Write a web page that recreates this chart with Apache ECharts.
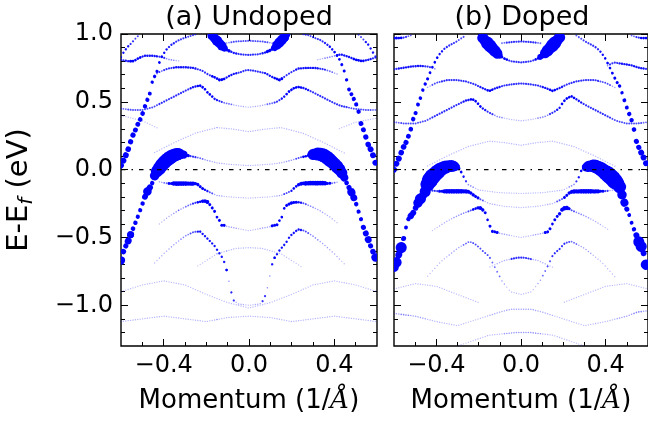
<!DOCTYPE html>
<html><head><meta charset="utf-8">
<script src="https://cdn.jsdelivr.net/npm/echarts@6/dist/echarts.min.js"></script>
<style>html,body{margin:0;padding:0;background:#fff}#c{width:648px;height:422px}</style>
</head><body><div id="c"></div>
<script>
// ---------- axis / label data ----------
const titles = ['(a) Undoped', '(b) Doped'];
const xRange = [-0.6, 0.6];
const yRange = [-1.3, 1.0];
const xMajor = [-0.4, 0, 0.4];
const xMinor = [-0.5, -0.3, -0.2, -0.1, 0.1, 0.2, 0.3, 0.5];
const yMajor = [-1.0, -0.5, 0, 0.5, 1.0];
const yMinor = [-1.2, -1.1, -0.9, -0.8, -0.7, -0.6, -0.4, -0.3, -0.2, -0.1, 0.1, 0.2, 0.3, 0.4, 0.6, 0.7, 0.8, 0.9];
const fermiLevel = [[-0.6, 0], [0.6, 0]];

// ---------- bands: [k (1/A), E-Ef (eV), spectral weight] ----------
// (a) Undoped
const undopedOuterLeft = [[-0.6,0.03,0.7],[-0.585,0.079,0.7],[-0.573,0.123,0.7],[-0.561,0.172,0.68],[-0.55,0.234,0.66],[-0.534,0.287,0.64],[-0.52,0.339,0.63],[-0.505,0.385,0.62],[-0.49,0.455,0.6],[-0.48,0.503,0.58],[-0.467,0.545,0.56],[-0.46,0.6,0.55],[-0.453,0.65,0.5],[-0.444,0.683,0.5],[-0.433,0.712,0.47],[-0.425,0.77,0.42],[-0.41,0.83,0.4],[-0.39,0.88,0.36],[-0.365,0.92,0.33],[-0.335,0.95,0.3],[-0.305,0.97,0.28],[-0.275,0.985,0.25],[-0.245,1.0,0.22]];
const undopedOuterRight = [[0.245,1.0,0.22],[0.28,0.99,0.25],[0.31,0.97,0.28],[0.335,0.955,0.3],[0.36,0.93,0.33],[0.38,0.905,0.36],[0.405,0.86,0.4],[0.425,0.81,0.42],[0.442,0.75,0.45],[0.455,0.68,0.5],[0.466,0.6,0.55],[0.481,0.553,0.56],[0.497,0.503,0.58],[0.512,0.442,0.6],[0.524,0.344,0.63],[0.536,0.295,0.64],[0.549,0.234,0.66],[0.559,0.184,0.68],[0.575,0.135,0.7],[0.583,0.098,0.7],[0.59,0.061,0.7],[0.6,0.02,0.7]];
const undopedHump = [[-0.6,-0.67,0.8],[-0.595,-0.64,0.8],[-0.588,-0.6,0.68],[-0.58,-0.57,0.65],[-0.57,-0.54,0.75],[-0.562,-0.51,0.8],[-0.555,-0.48,0.75],[-0.545,-0.44,0.62],[-0.537,-0.41,0.6],[-0.527,-0.37,0.58],[-0.517,-0.33,0.58],[-0.508,-0.29,0.58],[-0.5,-0.255,0.6],[-0.49,-0.21,0.7],[-0.48,-0.17,0.82],[-0.468,-0.14,0.72],[-0.458,-0.115,0.6],[-0.45,-0.086,0.6],[-0.444,-0.05,0.85],[-0.435,-0.02,0.93],[-0.42,0.01,0.96],[-0.405,0.04,0.97],[-0.39,0.065,0.97],[-0.37,0.09,0.97],[-0.35,0.108,0.95],[-0.33,0.115,0.92],[-0.31,0.112,0.8],[-0.29,0.105,0.5],[-0.26,0.095,0.3],[-0.23,0.085,0.2],[-0.2,0.07,0.12],[-0.15,0.05,0.08],[-0.1,0.04,0.06],[0,0.03,0.06],[0.1,0.04,0.06],[0.15,0.05,0.08],[0.2,0.07,0.12],[0.24,0.09,0.25],[0.27,0.1,0.4],[0.29,0.11,0.7],[0.31,0.115,0.9],[0.33,0.115,0.95],[0.35,0.105,0.97],[0.365,0.09,0.97],[0.38,0.07,0.97],[0.395,0.05,0.95],[0.41,0.025,0.95],[0.425,0.0,0.93],[0.437,-0.03,0.9],[0.447,-0.06,0.8],[0.455,-0.09,0.62],[0.465,-0.12,0.65],[0.478,-0.16,0.8],[0.487,-0.19,0.75],[0.497,-0.23,0.6],[0.505,-0.265,0.6],[0.512,-0.3,0.58],[0.52,-0.34,0.58],[0.528,-0.38,0.58],[0.535,-0.42,0.65],[0.545,-0.46,0.7],[0.555,-0.5,0.8],[0.562,-0.53,0.75],[0.572,-0.57,0.65],[0.58,-0.6,0.68],[0.59,-0.64,0.8],[0.6,-0.67,0.8]];
const undopedFlat = [[-0.42,-0.09,0.1],[-0.39,-0.1,0.2],[-0.37,-0.102,0.45],[-0.355,-0.102,0.6],[-0.34,-0.103,0.62],[-0.31,-0.103,0.62],[-0.28,-0.103,0.6],[-0.245,-0.103,0.5],[-0.234,-0.118,0.45],[-0.222,-0.135,0.45],[-0.205,-0.15,0.35],[-0.18,-0.17,0.25],[-0.15,-0.19,0.1],[-0.1,-0.2,0.05],[0,-0.21,0.05],[0.1,-0.2,0.05],[0.15,-0.19,0.1],[0.18,-0.17,0.25],[0.2,-0.155,0.35],[0.215,-0.13,0.4],[0.235,-0.108,0.5],[0.25,-0.102,0.55],[0.28,-0.1,0.62],[0.31,-0.1,0.62],[0.34,-0.1,0.62],[0.355,-0.1,0.6],[0.37,-0.102,0.45],[0.39,-0.1,0.2],[0.42,-0.09,0.1]];
const undopedDome1 = [[-0.42,-0.4,0.05],[-0.38,-0.35,0.08],[-0.33,-0.3,0.12],[-0.28,-0.26,0.2],[-0.253,-0.245,0.3],[-0.23,-0.237,0.4],[-0.215,-0.232,0.5],[-0.2,-0.232,0.55],[-0.19,-0.245,0.5],[-0.178,-0.27,0.45],[-0.16,-0.31,0.45],[-0.15,-0.35,0.4],[-0.136,-0.38,0.45],[-0.128,-0.41,0.45],[-0.117,-0.41,0.45],[-0.1,-0.42,0.1],[0,-0.45,0.05],[0.1,-0.42,0.1],[0.114,-0.41,0.45],[0.13,-0.41,0.45],[0.14,-0.38,0.4],[0.153,-0.356,0.4],[0.16,-0.3,0.4],[0.17,-0.27,0.4],[0.18,-0.26,0.45],[0.2,-0.245,0.5],[0.215,-0.24,0.45],[0.235,-0.24,0.35],[0.26,-0.25,0.25],[0.29,-0.27,0.15],[0.33,-0.3,0.1],[0.38,-0.35,0.08],[0.42,-0.4,0.05]];
const undopedDome2 = [[-0.45,-0.7,0.05],[-0.4,-0.62,0.08],[-0.35,-0.55,0.1],[-0.3,-0.49,0.15],[-0.26,-0.46,0.25],[-0.23,-0.455,0.35],[-0.2,-0.5,0.35],[-0.175,-0.54,0.35],[-0.16,-0.565,0.35],[-0.15,-0.59,0.35],[-0.12,-0.66,0.35],[-0.105,-0.74,0.35],[-0.09,-0.85,0.12],[-0.075,-0.96,0.3],[-0.05,-0.99,0.08],[0,-1.0,0.05],[0.05,-0.99,0.08],[0.07,-0.96,0.3],[0.09,-0.85,0.12],[0.106,-0.71,0.35],[0.12,-0.65,0.35],[0.145,-0.59,0.35],[0.16,-0.565,0.35],[0.177,-0.53,0.35],[0.192,-0.49,0.35],[0.23,-0.44,0.35],[0.26,-0.45,0.25],[0.3,-0.49,0.15],[0.35,-0.55,0.1],[0.4,-0.62,0.08],[0.45,-0.7,0.05]];
const undopedV = [[-0.18,1.0,0.75],[-0.165,0.975,0.85],[-0.15,0.95,0.87],[-0.135,0.925,0.85],[-0.12,0.9,0.75],[-0.1,0.88,0.5],[-0.07,0.86,0.35],[-0.04,0.85,0.3],[0,0.845,0.3],[0.04,0.85,0.3],[0.07,0.86,0.35],[0.1,0.88,0.5],[0.12,0.9,0.75],[0.135,0.925,0.85],[0.15,0.95,0.87],[0.165,0.975,0.85],[0.18,1.0,0.75]];
const undopedTopCenter = [[-0.12,0.93,0.15],[-0.06,0.945,0.25],[0,0.95,0.25],[0.06,0.945,0.25],[0.12,0.93,0.15]];
const undopedEdgeLeft = [[-0.6,0.83,0.3],[-0.586,0.87,0.35],[-0.566,0.91,0.35],[-0.553,0.93,0.3],[-0.53,0.97,0.25],[-0.51,1.0,0.2]];
const undopedEdgeRight = [[0.51,1.0,0.2],[0.53,0.97,0.25],[0.56,0.92,0.35],[0.575,0.88,0.35],[0.59,0.84,0.3],[0.6,0.82,0.3]];
const undopedSideLeft = [[-0.6,0.81,0.3],[-0.57,0.8,0.35],[-0.54,0.8,0.4],[-0.52,0.82,0.4],[-0.49,0.84,0.35],[-0.45,0.84,0.35],[-0.41,0.83,0.3],[-0.37,0.81,0.15],[-0.32,0.8,0.08]];
const undopedSideRight = [[0.32,0.81,0.08],[0.38,0.83,0.15],[0.43,0.85,0.35],[0.47,0.83,0.35],[0.5,0.81,0.4],[0.53,0.8,0.4],[0.56,0.81,0.35],[0.6,0.83,0.3]];
const undopedW = [[-0.45,0.69,0.1],[-0.42,0.72,0.2],[-0.38,0.745,0.3],[-0.34,0.755,0.35],[-0.3,0.755,0.35],[-0.26,0.75,0.35],[-0.22,0.73,0.3],[-0.19,0.7,0.3],[-0.16,0.68,0.4],[-0.136,0.66,0.45],[-0.117,0.668,0.4],[-0.097,0.687,0.35],[-0.074,0.705,0.35],[-0.042,0.717,0.3],[-0.011,0.735,0.3],[0.02,0.73,0.3],[0.05,0.72,0.3],[0.08,0.71,0.35],[0.1,0.69,0.35],[0.12,0.675,0.4],[0.145,0.66,0.45],[0.17,0.69,0.3],[0.2,0.72,0.3],[0.23,0.745,0.35],[0.27,0.75,0.35],[0.31,0.75,0.35],[0.35,0.74,0.3],[0.38,0.725,0.2],[0.42,0.7,0.1]];
const undopedDome062 = [[-0.6,0.45,0.2],[-0.55,0.44,0.25],[-0.5,0.44,0.25],[-0.45,0.46,0.25],[-0.4,0.5,0.3],[-0.35,0.54,0.3],[-0.3,0.58,0.3],[-0.26,0.61,0.35],[-0.23,0.62,0.4],[-0.21,0.6,0.4],[-0.195,0.57,0.4],[-0.18,0.55,0.4],[-0.16,0.52,0.35],[-0.13,0.5,0.3],[-0.11,0.49,0.2],[-0.05,0.47,0.08],[0,0.46,0.06],[0.05,0.47,0.08],[0.11,0.49,0.2],[0.13,0.5,0.3],[0.16,0.53,0.35],[0.19,0.58,0.4],[0.21,0.6,0.4],[0.23,0.61,0.4],[0.26,0.6,0.35],[0.3,0.57,0.3],[0.35,0.53,0.3],[0.4,0.49,0.3],[0.43,0.47,0.3],[0.49,0.45,0.25],[0.55,0.44,0.25],[0.6,0.44,0.2]];
const undopedFaint1 = [[-0.45,0.12,0.06],[-0.35,0.2,0.06],[-0.25,0.27,0.06],[-0.15,0.31,0.06],[-0.08,0.3,0.06],[0,0.28,0.06],[0.08,0.3,0.06],[0.15,0.31,0.06],[0.25,0.27,0.06],[0.35,0.2,0.06],[0.45,0.12,0.06]];
const undopedFaint2 = [[-0.6,-1.12,0.06],[-0.5,-1.1,0.06],[-0.4,-1.08,0.06],[-0.3,-1.1,0.06],[-0.2,-1.12,0.06],[-0.1,-1.09,0.06],[0,-1.08,0.06],[0.1,-1.09,0.06],[0.2,-1.12,0.06],[0.3,-1.1,0.06],[0.4,-1.08,0.06],[0.5,-1.1,0.06],[0.6,-1.12,0.06]];
const undopedFaint3 = [[-0.6,-0.9,0.05],[-0.5,-0.85,0.05],[-0.4,-0.82,0.05],[-0.3,-0.85,0.05],[-0.2,-0.92,0.05],[-0.1,-0.98,0.05],[0,-1.02,0.05],[0.1,-0.98,0.05],[0.2,-0.92,0.05],[0.3,-0.85,0.05],[0.4,-0.82,0.05],[0.5,-0.85,0.05],[0.6,-0.9,0.05]];
const undopedFaint4 = [[-0.25,-0.72,0.04],[-0.15,-0.62,0.05],[-0.06,-0.58,0.06],[0,-0.575,0.06],[0.06,-0.58,0.06],[0.15,-0.62,0.05],[0.25,-0.72,0.04]];
const undopedFaint5 = [[-0.6,0.4,0.05],[-0.5,0.36,0.05],[-0.42,0.3,0.04]];
const undopedFaint6 = [[0.42,0.3,0.04],[0.5,0.35,0.05],[0.6,0.38,0.05]];

// (b) Doped
const dopedOuterLeft = [[-0.6,0.0,0.7],[-0.587,0.05,0.7],[-0.572,0.098,0.7],[-0.56,0.152,0.68],[-0.54,0.21,0.65],[-0.528,0.265,0.63],[-0.517,0.315,0.62],[-0.51,0.37,0.6],[-0.5,0.405,0.58],[-0.49,0.466,0.56],[-0.475,0.528,0.52],[-0.466,0.577,0.5],[-0.458,0.614,0.5],[-0.447,0.65,0.47],[-0.435,0.69,0.45],[-0.428,0.724,0.42],[-0.413,0.774,0.4],[-0.397,0.823,0.38],[-0.381,0.86,0.35],[-0.358,0.897,0.32],[-0.334,0.92,0.3],[-0.311,0.938,0.28],[-0.28,0.97,0.25],[-0.26,0.99,0.22]];
const dopedOuterRight = [[0.26,0.99,0.22],[0.28,0.97,0.25],[0.311,0.938,0.28],[0.334,0.92,0.3],[0.358,0.897,0.32],[0.381,0.86,0.35],[0.397,0.823,0.38],[0.413,0.774,0.4],[0.428,0.724,0.42],[0.44,0.685,0.45],[0.451,0.65,0.47],[0.467,0.614,0.5],[0.475,0.577,0.5],[0.483,0.54,0.52],[0.49,0.503,0.55],[0.498,0.466,0.56],[0.506,0.43,0.58],[0.514,0.4,0.6],[0.522,0.368,0.6],[0.53,0.32,0.62],[0.538,0.27,0.63],[0.545,0.209,0.65],[0.553,0.178,0.66],[0.561,0.147,0.68],[0.57,0.12,0.7],[0.577,0.098,0.7],[0.59,0.05,0.7],[0.6,0.0,0.7]];
const dopedHump = [[-0.6,-0.72,0.85],[-0.59,-0.69,0.88],[-0.582,-0.65,0.7],[-0.574,-0.61,0.75],[-0.566,-0.575,0.9],[-0.56,-0.545,0.88],[-0.555,-0.51,0.65],[-0.55,-0.475,0.55],[-0.545,-0.44,0.55],[-0.54,-0.4,0.55],[-0.535,-0.37,0.6],[-0.52,-0.34,0.72],[-0.505,-0.31,0.7],[-0.495,-0.27,0.68],[-0.485,-0.24,0.85],[-0.475,-0.215,0.9],[-0.462,-0.19,0.8],[-0.452,-0.16,0.9],[-0.445,-0.12,0.98],[-0.435,-0.09,1.02],[-0.423,-0.06,1.02],[-0.41,-0.04,1.0],[-0.4,-0.025,1.0],[-0.385,-0.005,0.98],[-0.369,0.012,0.96],[-0.35,0.022,0.94],[-0.335,0.027,0.92],[-0.32,0.027,0.88],[-0.305,0.02,0.75],[-0.29,0.005,0.5],[-0.28,-0.025,0.4],[-0.27,-0.055,0.35],[-0.262,-0.08,0.3],[-0.25,-0.11,0.15],[-0.2,-0.15,0.06],[-0.1,-0.17,0.05],[0,-0.175,0.05],[0.1,-0.17,0.05],[0.2,-0.15,0.06],[0.25,-0.11,0.15],[0.265,-0.08,0.3],[0.275,-0.05,0.35],[0.28,-0.02,0.4],[0.29,0.005,0.5],[0.303,0.015,0.8],[0.32,0.025,0.9],[0.342,0.028,0.94],[0.36,0.02,0.96],[0.381,0.0,0.98],[0.398,-0.02,1.0],[0.413,-0.037,1.02],[0.43,-0.06,1.02],[0.444,-0.086,1.02],[0.456,-0.105,0.98],[0.467,-0.13,0.95],[0.473,-0.16,0.85],[0.478,-0.19,0.85],[0.483,-0.22,0.9],[0.49,-0.25,0.8],[0.497,-0.28,0.65],[0.506,-0.315,0.75],[0.515,-0.35,0.55],[0.522,-0.39,0.55],[0.53,-0.42,0.6],[0.537,-0.455,0.6],[0.55,-0.5,0.7],[0.56,-0.55,0.9],[0.572,-0.575,0.9],[0.58,-0.62,0.7],[0.587,-0.69,0.88],[0.6,-0.73,0.85]];
const dopedFlat = [[-0.44,-0.15,0.1],[-0.4,-0.158,0.3],[-0.38,-0.16,0.45],[-0.365,-0.16,0.6],[-0.353,-0.16,0.62],[-0.3,-0.16,0.62],[-0.263,-0.16,0.6],[-0.25,-0.162,0.55],[-0.24,-0.168,0.5],[-0.228,-0.184,0.5],[-0.212,-0.2,0.45],[-0.19,-0.22,0.25],[-0.15,-0.25,0.08],[-0.08,-0.27,0.05],[0,-0.28,0.05],[0.08,-0.27,0.05],[0.15,-0.25,0.08],[0.19,-0.22,0.25],[0.21,-0.2,0.45],[0.225,-0.175,0.5],[0.24,-0.163,0.55],[0.255,-0.16,0.6],[0.3,-0.16,0.62],[0.36,-0.16,0.6],[0.375,-0.16,0.45],[0.4,-0.158,0.3],[0.44,-0.15,0.1]];
const dopedDome1 = [[-0.42,-0.45,0.05],[-0.35,-0.38,0.08],[-0.3,-0.34,0.12],[-0.27,-0.32,0.15],[-0.244,-0.305,0.25],[-0.22,-0.29,0.4],[-0.205,-0.282,0.5],[-0.195,-0.28,0.55],[-0.185,-0.29,0.5],[-0.175,-0.305,0.45],[-0.168,-0.32,0.45],[-0.16,-0.36,0.4],[-0.15,-0.405,0.45],[-0.135,-0.455,0.45],[-0.119,-0.46,0.45],[-0.1,-0.47,0.1],[0,-0.5,0.05],[0.1,-0.47,0.1],[0.123,-0.46,0.45],[0.131,-0.455,0.45],[0.145,-0.41,0.4],[0.163,-0.36,0.45],[0.176,-0.335,0.45],[0.186,-0.32,0.5],[0.194,-0.295,0.55],[0.21,-0.28,0.6],[0.225,-0.285,0.45],[0.24,-0.3,0.25],[0.27,-0.32,0.15],[0.3,-0.34,0.12],[0.35,-0.38,0.08],[0.42,-0.45,0.05]];
const dopedDome2 = [[-0.45,-0.8,0.05],[-0.38,-0.68,0.06],[-0.3,-0.58,0.1],[-0.244,-0.53,0.2],[-0.22,-0.545,0.25],[-0.2,-0.57,0.25],[-0.18,-0.6,0.25],[-0.165,-0.62,0.25],[-0.15,-0.64,0.25],[-0.13,-0.7,0.2],[-0.11,-0.76,0.2],[-0.09,-0.82,0.1],[-0.05,-0.9,0.05],[0,-0.92,0.05],[0.05,-0.9,0.05],[0.09,-0.82,0.1],[0.11,-0.76,0.2],[0.13,-0.7,0.25],[0.147,-0.64,0.3],[0.163,-0.61,0.3],[0.186,-0.58,0.3],[0.2,-0.55,0.3],[0.22,-0.535,0.25],[0.24,-0.53,0.2],[0.3,-0.58,0.1],[0.38,-0.68,0.06],[0.45,-0.8,0.05]];
const dopedCenter065 = [[-0.15,-0.72,0.05],[-0.08,-0.67,0.08],[-0.02,-0.65,0.3],[0,-0.648,0.3],[0.02,-0.65,0.3],[0.08,-0.67,0.08],[0.15,-0.72,0.05]];
const dopedLow1 = [[-0.6,-1.06,0.1],[-0.55,-1.07,0.15],[-0.5,-1.08,0.1],[-0.4,-1.12,0.06],[-0.3,-1.15,0.05],[-0.2,-1.1,0.05],[-0.1,-1.05,0.08],[-0.05,-1.03,0.1],[0,-1.03,0.1],[0.05,-1.03,0.1],[0.1,-1.05,0.08],[0.2,-1.1,0.05],[0.3,-1.15,0.05],[0.4,-1.12,0.06],[0.5,-1.08,0.1],[0.55,-1.05,0.15],[0.6,-1.04,0.1]];
const dopedLow2 = [[-0.3,-1.3,0.04],[-0.15,-1.22,0.06],[-0.02,-1.2,0.12],[0.04,-1.2,0.12],[0.15,-1.22,0.06],[0.3,-1.3,0.04]];
const dopedV = [[-0.19,0.99,0.7],[-0.175,0.96,0.9],[-0.16,0.935,0.95],[-0.145,0.91,0.95],[-0.13,0.885,0.92],[-0.115,0.86,0.88],[-0.1,0.84,0.7],[-0.08,0.82,0.4],[-0.05,0.8,0.3],[0,0.79,0.3],[0.05,0.8,0.3],[0.08,0.82,0.4],[0.1,0.84,0.7],[0.115,0.86,0.88],[0.13,0.885,0.92],[0.145,0.91,0.95],[0.16,0.935,0.95],[0.175,0.96,0.9],[0.19,0.99,0.7]];
const dopedTopCenter = [[-0.1,0.93,0.2],[-0.05,0.94,0.3],[0,0.945,0.3],[0.05,0.94,0.3],[0.1,0.93,0.2]];
const dopedCornerLeft = [[-0.6,0.97,0.4],[-0.585,0.97,0.45],[-0.57,0.97,0.4],[-0.55,0.975,0.3],[-0.52,0.99,0.2]];
const dopedCornerRight = [[0.52,0.99,0.2],[0.55,0.975,0.3],[0.57,0.97,0.4],[0.6,0.97,0.4]];
const dopedW = [[-0.45,0.6,0.1],[-0.4,0.64,0.25],[-0.35,0.66,0.3],[-0.3,0.66,0.3],[-0.26,0.65,0.3],[-0.22,0.63,0.3],[-0.18,0.6,0.35],[-0.15,0.58,0.4],[-0.12,0.6,0.35],[-0.08,0.62,0.3],[-0.04,0.63,0.3],[0,0.635,0.3],[0.04,0.63,0.3],[0.08,0.62,0.3],[0.12,0.6,0.35],[0.15,0.58,0.4],[0.18,0.6,0.35],[0.22,0.63,0.3],[0.26,0.65,0.3],[0.3,0.66,0.3],[0.35,0.66,0.3],[0.4,0.64,0.25],[0.45,0.6,0.1]];
const dopedSideLeft = [[-0.6,0.74,0.3],[-0.56,0.75,0.35],[-0.52,0.76,0.35],[-0.48,0.765,0.35],[-0.44,0.76,0.3],[-0.4,0.74,0.15]];
const dopedSideRight = [[0.4,0.76,0.15],[0.44,0.79,0.3],[0.48,0.78,0.35],[0.52,0.77,0.35],[0.56,0.75,0.35],[0.6,0.74,0.3]];
const dopedDome052 = [[-0.6,0.35,0.2],[-0.55,0.34,0.25],[-0.5,0.34,0.25],[-0.45,0.36,0.25],[-0.4,0.4,0.3],[-0.35,0.44,0.3],[-0.3,0.48,0.3],[-0.26,0.51,0.35],[-0.23,0.52,0.4],[-0.21,0.5,0.4],[-0.195,0.47,0.4],[-0.18,0.45,0.35],[-0.15,0.42,0.3],[-0.11,0.39,0.15],[-0.05,0.37,0.06],[0,0.36,0.06],[0.05,0.37,0.06],[0.11,0.39,0.15],[0.15,0.42,0.3],[0.18,0.45,0.35],[0.2,0.5,0.4],[0.22,0.53,0.4],[0.24,0.54,0.4],[0.27,0.51,0.35],[0.3,0.48,0.3],[0.35,0.44,0.3],[0.4,0.4,0.3],[0.45,0.36,0.25],[0.5,0.34,0.25],[0.55,0.34,0.25],[0.6,0.35,0.2]];
const dopedFaint1 = [[-0.45,0.02,0.06],[-0.35,0.1,0.06],[-0.25,0.17,0.06],[-0.15,0.21,0.06],[-0.08,0.2,0.06],[0,0.18,0.06],[0.08,0.2,0.06],[0.15,0.21,0.06],[0.25,0.17,0.06],[0.35,0.1,0.06],[0.45,0.02,0.06]];
const dopedFaint2 = [[-0.6,-0.88,0.05],[-0.5,-0.84,0.05],[-0.4,-0.86,0.05],[-0.3,-0.92,0.05],[-0.2,-0.98,0.05]];
const dopedFaint3 = [[0.2,-0.98,0.05],[0.3,-0.92,0.05],[0.4,-0.86,0.05],[0.5,-0.84,0.05],[0.6,-0.88,0.05]];

const undopedBands = [undopedFaint1, undopedFaint2, undopedFaint3, undopedFaint4, undopedFaint5, undopedFaint6, undopedDome062, undopedW, undopedTopCenter, undopedSideLeft, undopedSideRight, undopedEdgeLeft, undopedEdgeRight, undopedDome2, undopedDome1, undopedFlat, undopedOuterLeft, undopedOuterRight, undopedV, undopedHump];
const dopedBands = [dopedFaint1, dopedFaint2, dopedFaint3, dopedLow1, dopedLow2, dopedCenter065, dopedDome052, dopedW, dopedTopCenter, dopedSideLeft, dopedSideRight, dopedCornerLeft, dopedCornerRight, dopedDome2, dopedDome1, dopedFlat, dopedOuterLeft, dopedOuterRight, dopedV, dopedHump];

// ---------- rendering ----------
const FONT = 'DejaVu Sans';
const GRIDS = [{left:121, top:34, width:256, height:312}, {left:394, top:34, width:256, height:312}];
const K_STEP_PX = 2.4;   // momentum sampling step of the calculation, in pixels
function sizeOf(w){ return 1.2 + 3*w + 11*Math.pow(w,4); }
function alphaOf(w){ return Math.min(1, 0.16 + 2.2*w); }
function segments(bands){
  const out = [];
  bands.forEach(b => { for (let i = 0; i < b.length - 1; i++) out.push([b[i][0], b[i][1], b[i][2], b[i+1][0], b[i+1][1], b[i+1][2]]); });
  return out;
}
// dotted piece whose dots sit on a uniform k grid (like the calculation's k-points)
function dottedPiece(x1, y1, x2, y2, w, x0){
  const s = sizeOf(w);
  const dx = x2 - x1, L = Math.hypot(x2 - x1, y2 - y1);
  const adx = Math.abs(dx);
  let period, d0;
  if (adx < 1e-6) { period = 14; d0 = 0; }
  else {
    period = Math.min(16, K_STEP_PX * L / adx);
    const rel = (x1 - x0) / K_STEP_PX;
    const nx = dx > 0 ? Math.ceil(rel) : Math.floor(rel);
    const t0 = Math.abs(nx * K_STEP_PX + x0 - x1) / adx;
    d0 = t0 * L;
  }
  period = Math.max(period, 0.3);
  const offset = ((period - d0) % period + period) % period;
  return {type:'line', shape:{x1, y1, x2, y2},
    style:{stroke:'rgba(0,0,255,' + alphaOf(w).toFixed(3) + ')', lineWidth:s, lineCap:'round', lineDash:[0.01, period - 0.01], lineDashOffset:offset, fill:null}};
}
function renderSeg(params, api){
  const a = api.coord([api.value(0), api.value(1)]);
  const b = api.coord([api.value(3), api.value(4)]);
  const x0 = api.coord([xRange[0], 0])[0];
  const mx = (a[0] + b[0]) / 2, my = (a[1] + b[1]) / 2;
  return {type:'group', children:[dottedPiece(a[0], a[1], mx, my, api.value(2), x0), dottedPiece(mx, my, b[0], b[1], api.value(5), x0)]};
}
const fmt = v => (v < 0 ? '\u2212' : '') + Math.abs(v).toFixed(1);
function tickAxis(kind, grid, pos, vals, len, labelVals, extra){
  const ax = {type:'value', gridIndex:grid, position:pos,
    min: kind === 'x' ? xRange[0] : yRange[0], max: kind === 'x' ? xRange[1] : yRange[1],
    axisLine:{show:false, onZero:false}, splitLine:{show:false},
    axisTick:{show:true, inside:true, length:len, customValues:vals, lineStyle:{color:'#000', width:1}},
    axisLabel: labelVals ? {show:true, customValues:labelVals, formatter:fmt, color:'#000', fontSize:24, fontFamily:FONT, margin:8} : {show:false}
  };
  return Object.assign(ax, extra || {});
}
const xAxes = [], yAxes = [], series = [];
[0,1].forEach(g => {
  xAxes.push(tickAxis('x', g, 'bottom', xMajor, 7, xMajor, {name:'Momentum (1/{i|Å})', nameLocation:'middle', nameGap:42,
    nameTextStyle:{fontSize:26, fontFamily:FONT, color:'#000', rich:{i:{fontSize:26, fontFamily:'DejaVu Serif', fontStyle:'italic', color:'#000'}}}}));
  xAxes.push(tickAxis('x', g, 'bottom', xMinor, 4));
  xAxes.push(tickAxis('x', g, 'top', xMajor, 7));
  xAxes.push(tickAxis('x', g, 'top', xMinor, 4));
  yAxes.push(tickAxis('y', g, 'left', yMajor, 7, g === 0 ? yMajor : null, g === 0 ? {name:'E-E{s|f} (eV)', nameLocation:'middle', nameRotate:90, nameGap:84,
    nameTextStyle:{fontSize:29, fontFamily:FONT, color:'#000', lineHeight:36, rich:{s:{fontSize:20, fontStyle:'italic', fontFamily:FONT, color:'#000', lineHeight:18, verticalAlign:'bottom'}}}} : {}));
  yAxes.push(tickAxis('y', g, 'left', yMinor, 4));
  yAxes.push(tickAxis('y', g, 'right', yMajor, 7));
  yAxes.push(tickAxis('y', g, 'right', yMinor, 4));
  series.push({type:'custom', coordinateSystem:'cartesian2d', xAxisIndex:4*g, yAxisIndex:4*g, clip:true, silent:true,
    renderItem:renderSeg, data:segments(g === 0 ? undopedBands : dopedBands), animation:false});
  series.push({type:'line', xAxisIndex:4*g, yAxisIndex:4*g, data:fermiLevel, symbol:'none', silent:true, animation:false, z:5,
    lineStyle:{color:'#000', width:1.2, type:[4.5,6,1.5,6]}});
});
const chart = echarts.init(document.getElementById('c'), null, {renderer:'canvas'});
chart.setOption({
  animation:false,
  backgroundColor:'#fff',
  grid: GRIDS.map(g => Object.assign({show:true, borderColor:'#000', borderWidth:1.4, backgroundColor:'transparent', containLabel:false}, g)),
  xAxis: xAxes, yAxis: yAxes, series: series,
  graphic: titles.map((t, i) => ({type:'text', x: GRIDS[i].left + 128, y: 18, z: 10,
    style:{text:t, fontSize:27, fontFamily:FONT, fill:'#000', align:'center', verticalAlign:'middle'}}))
});
</script></body></html>
